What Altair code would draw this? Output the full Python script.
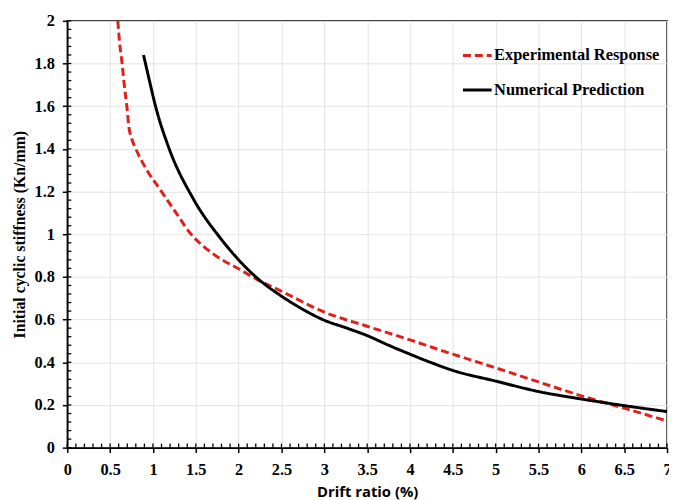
import altair as alt
import pandas as pd

# Experimental response (red dashed)
exp_x = [0.59, 0.61, 0.64, 0.665, 0.695, 0.72, 0.75, 0.80, 0.86, 0.93, 1.10, 1.27, 1.445,
         1.57, 1.75, 2.0, 2.23, 2.5, 3.0, 3.5, 4.0, 4.5, 5.0, 5.5, 6.0, 6.5, 7.0]
exp_y = [2.0, 1.9, 1.8, 1.7, 1.6, 1.5, 1.45, 1.4, 1.35, 1.3, 1.2, 1.1, 1.0,
         0.95, 0.895, 0.838, 0.785, 0.733, 0.635, 0.569, 0.505, 0.438, 0.374, 0.308, 0.243, 0.185, 0.125]

# Numerical prediction (black solid)
num_x = [0.89, 0.95, 1.03, 1.19, 1.465, 1.8, 2.0, 2.23, 2.5, 2.75, 3.0,
         3.25, 3.5, 3.75, 4.0, 4.25, 4.5, 5.0, 5.5, 6.0, 6.5, 7.0]
num_y = [1.84, 1.735, 1.6, 1.4, 1.17, 0.975, 0.88, 0.79, 0.71, 0.648, 0.597,
         0.562, 0.525, 0.48, 0.438, 0.398, 0.362, 0.312, 0.263, 0.228, 0.197, 0.169]

series_names = ["Experimental Response", "Numerical Prediction"]
series_colors = ["#e0201b", "#000000"]
series_dash = [[8, 4], [1, 0]]

x_title = "Drift ratio (%)"
y_title = "Initial cyclic stiffness (Kn/mm)"

x_major = [i * 0.5 for i in range(15)]
x_minor = [round(i * 0.1, 1) for i in range(71)]
y_major = [round(i * 0.2, 1) for i in range(11)]
y_minor = [round(i * 0.04, 2) for i in range(51)]

df = pd.concat([
    pd.DataFrame({"x": exp_x, "y": exp_y, "series": series_names[0], "order": range(len(exp_x))}),
    pd.DataFrame({"x": num_x, "y": num_y, "series": series_names[1], "order": range(len(num_x))}),
])

serif = "Liberation Serif"
xscale = alt.Scale(domain=[0, 7], nice=False, zero=False)
yscale = alt.Scale(domain=[0, 2], nice=False, zero=False)

x_axis = alt.Axis(values=x_major, orient="bottom", grid=True, gridColor="#e3e3e3",
                  domainColor="black", domainWidth=1.5, tickColor="black", tickSize=5,
                  tickWidth=1.5, labelFont=serif, labelFontWeight="bold", labelFontSize=16.5,
                  labelColor="black", labelPadding=9, labelFlush=False,
                  titleFont="Open Sans", titleFontWeight="bold", titleFontSize=15,
                  titleColor="black", titlePadding=7, labelExpr="datum.value")
y_axis = alt.Axis(values=y_major, orient="left", grid=True, gridColor="#e3e3e3",
                  domainColor="black", domainWidth=1.5, tickColor="black", tickSize=5,
                  tickWidth=1.5, labelFont=serif, labelFontWeight="bold", labelFontSize=16.5,
                  labelColor="black", labelPadding=8, labelFlush=False,
                  titleFont=serif, titleFontWeight="bold", titleFontSize=16,
                  titleColor="black", titlePadding=7, labelExpr="datum.value")

legend = alt.Legend(title=None, orient="none", legendX=399, legendY=19,
                    symbolType="stroke", symbolStrokeWidth=3, symbolSize=840,
                    labelFont=serif, labelFontWeight="bold", labelFontSize=16.6,
                    labelColor="black", labelOffset=1, rowPadding=10, labelLimit=0)

lines = alt.Chart(df).mark_line(strokeWidth=3, interpolate="monotone").encode(
    x=alt.X("x:Q", scale=xscale, title=x_title, axis=x_axis),
    y=alt.Y("y:Q", scale=yscale, title=y_title, axis=y_axis),
    color=alt.Color("series:N", scale=alt.Scale(domain=series_names, range=series_colors),
                    legend=legend),
    strokeDash=alt.StrokeDash("series:N", scale=alt.Scale(domain=series_names, range=series_dash),
                              legend=legend),
    order="order:Q",
)

# minor ticks along the axes (inside the plot)
x_ticks = alt.Chart(pd.DataFrame({"xm": x_minor})).mark_rule(color="black", strokeWidth=1.3).encode(
    x=alt.X("xm:Q", scale=xscale, title=x_title, axis=x_axis),
    y=alt.Y(datum=0, title=y_title, axis=y_axis),
    y2=alt.Y2(datum=0.019),
)
y_ticks = alt.Chart(pd.DataFrame({"ym": y_minor})).mark_rule(color="black", strokeWidth=1.3).encode(
    y=alt.Y("ym:Q", scale=yscale, title=y_title, axis=y_axis),
    x=alt.X(datum=0, title=x_title, axis=x_axis),
    x2=alt.X2(datum=0.047),
)

chart = alt.layer(lines, x_ticks, y_ticks).properties(
    width=607, height=432,
    autosize=alt.AutoSizeParams(type="none"),
    padding={"left": 60, "top": 10, "right": 2, "bottom": 52},
).configure_view(stroke="#222", strokeWidth=1.5)

chart.save("out.html", embed_options={"renderer": "svg", "actions": False})
